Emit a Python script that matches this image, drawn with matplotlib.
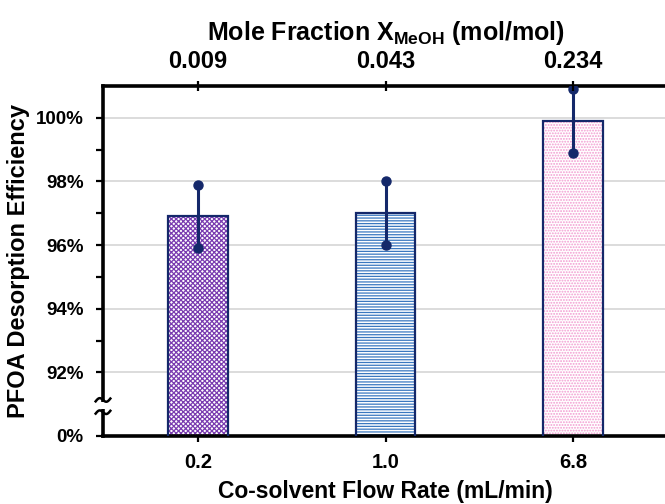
import numpy as np
import matplotlib
matplotlib.use("Agg")
import matplotlib.pyplot as plt

flow_rates = ["0.2", "1.0", "6.8"]
mole_fractions = ["0.009", "0.043", "0.234"]
efficiency = [96.9, 97.0, 99.9]
err = [1.0, 1.0, 1.0]
hatches = ["xxxxxxx", "------", "......"]
hatch_colors = ["#7a3cb0", "#3a78c0", "#f29ad0"]

plt.rcParams['font.family'] = ['Liberation Sans', 'DejaVu Sans']
plt.rcParams['font.weight'] = 'bold'
plt.rcParams['axes.labelweight'] = 'bold'
plt.rcParams['mathtext.fontset'] = 'custom'
plt.rcParams['mathtext.rm'] = 'Liberation Sans:bold'
plt.rcParams['mathtext.bf'] = 'Liberation Sans:bold'
plt.rcParams['hatch.linewidth'] = 0.9

navy = '#14286a'

fig = plt.figure(figsize=(6.65, 5.04), dpi=100)
ax = fig.add_axes([103/665, 68/504, 565/665, 350/504])
x = np.arange(len(flow_rates))

for i in range(len(x)):
    ax.bar(x[i], efficiency[i], width=0.32, color='white',
           edgecolor=hatch_colors[i], hatch=hatches[i], linewidth=0, zorder=2)
ax.bar(x, efficiency, width=0.32, fill=False, edgecolor=navy, linewidth=1.6, zorder=3)

ax.errorbar(x, efficiency, yerr=err, fmt='none', ecolor=navy,
            elinewidth=2.2, capsize=0, zorder=4)
ax.plot(x, np.add(efficiency, err), 'o', color=navy, ms=6.5, zorder=5)
ax.plot(x, np.subtract(efficiency, err), 'o', color=navy, ms=6.5, zorder=5)

ax.set_xlim(-0.507, 2.507)
ax.set_ylim(90, 101)
ax.set_xticks(x)
ax.set_xticklabels(flow_rates, fontsize=14.5)
major = [90, 92, 94, 96, 98, 100]
ax.set_yticks(major)
ax.set_yticklabels(['0%'] + [f'{v}%' for v in major[1:]], fontsize=13.5)
ax.set_yticks([93, 95, 97, 99], minor=True)
ax.tick_params(axis='y', which='both', direction='out', length=5, width=1.6, pad=9)
ax.tick_params(axis='x', direction='out', length=4, width=1.6, pad=8)

ax.yaxis.grid(True, color='#d9d9d9', linewidth=1.3)
ax.set_axisbelow(True)
for side in ['left', 'bottom', 'top']:
    ax.spines[side].set_linewidth(2.6)
ax.spines['right'].set_visible(False)

ax.set_xlabel('Co-solvent Flow Rate (mL/min)', fontsize=16.5, labelpad=6)
ax.set_ylabel('PFOA Desorption Efficiency', fontsize=17, labelpad=4)

ax2 = ax.twiny()
ax2.set_xlim(ax.get_xlim())
ax2.set_xticks(x)
ax2.set_xticklabels(mole_fractions, fontsize=17)
ax2.tick_params(axis='x', direction='inout', length=7, width=1.6, pad=6)
ax2.set_xlabel('Mole Fraction X$_{\\mathbf{MeOH}}$ (mol/mol)', fontsize=18, labelpad=7)
for s in ax2.spines.values():
    s.set_visible(False)

# axis break on the y axis
ax.plot([0, 0], [0.078, 0.096], transform=ax.transAxes, color='white',
        lw=4, clip_on=False, zorder=10, solid_capstyle='butt')
t = np.linspace(0, 1, 40)
for yc in [0.103, 0.068]:
    ax.plot(-0.013 + 0.026 * t, yc + 0.007 * np.sin(2 * np.pi * t) + 0.008 * (t - 0.5),
            transform=ax.transAxes, color='black', lw=1.8, clip_on=False, zorder=11)

fig.savefig('out.png', dpi=100)
